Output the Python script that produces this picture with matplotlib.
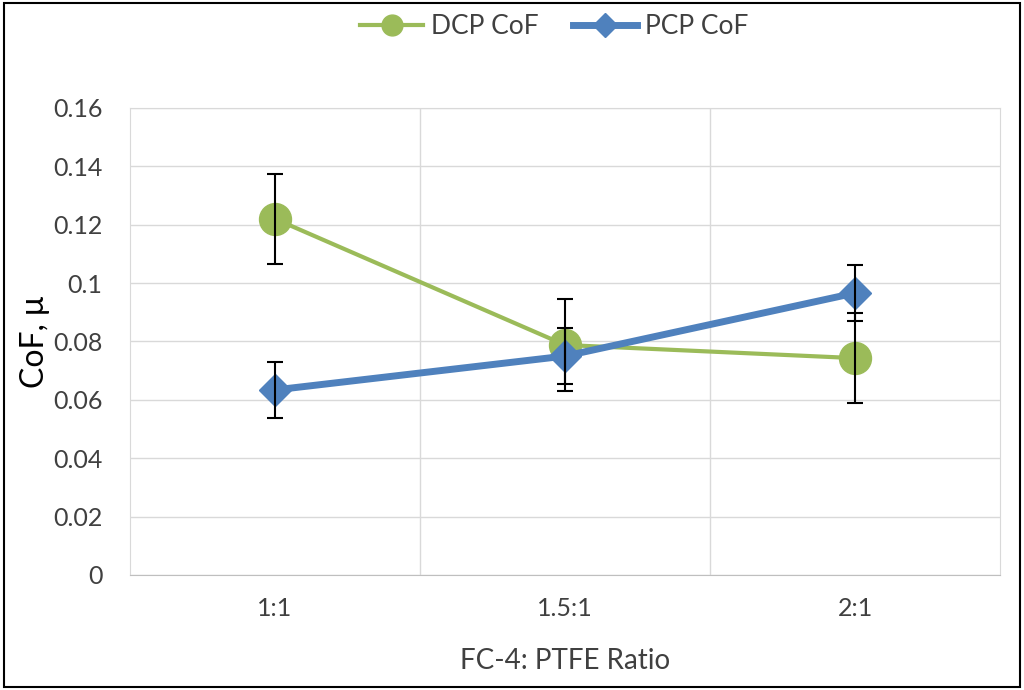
import matplotlib
matplotlib.use("Agg")
import matplotlib.pyplot as plt
from matplotlib.patches import Rectangle
from matplotlib.lines import Line2D

categories = ["1:1", "1.5:1", "2:1"]
dcp = [0.122, 0.0788, 0.0743]
dcp_err = [0.0155, 0.0158, 0.0155]
pcp = [0.0634, 0.075, 0.0966]
pcp_err = [0.0096, 0.0096, 0.0096]
yticks = [0, 0.02, 0.04, 0.06, 0.08, 0.1, 0.12, 0.14, 0.16]
ytick_labels = ["0", "0.02", "0.04", "0.06", "0.08", "0.1", "0.12", "0.14", "0.16"]

plt.rcParams['font.family'] = ['Lato', 'DejaVu Sans']
green = "#9BBB59"
blue = "#4F81BD"
txt = "#404040"

fig = plt.figure(figsize=(10.24, 6.9), dpi=100)
ax = fig.add_axes([0.127, 0.1667, 0.8496, 0.6768])
x = list(range(len(categories)))

ax.plot(x, dcp, color=green, lw=3, marker="o", ms=23, zorder=3, label="DCP CoF")
ax.plot(x, pcp, color=blue, lw=5, marker="D", ms=16, zorder=4, label="PCP CoF")
ax.errorbar(x, dcp, yerr=dcp_err, fmt="none", ecolor="black", elinewidth=1.5, capsize=6, capthick=1.5, zorder=5)
ax.errorbar(x, pcp, yerr=pcp_err, fmt="none", ecolor="black", elinewidth=1.5, capsize=6, capthick=1.5, zorder=5)

ax.set_xlim(-0.5, 2.5)
ax.set_ylim(0, 0.16)
ax.set_yticks(yticks)
ax.set_yticklabels(ytick_labels)
ax.set_xticks(x)
ax.set_xticklabels(categories)
ax.set_xticks([0.5, 1.5], minor=True)
ax.grid(True, axis="y", color="#D9D9D9", lw=1)
ax.grid(True, axis="x", which="minor", color="#D9D9D9", lw=1)
ax.set_axisbelow(True)
for s in ["top", "right", "left"]:
    ax.spines[s].set_color("#D9D9D9")
ax.spines["bottom"].set_color("#BFBFBF")
ax.tick_params(axis="both", which="both", length=0, labelsize=18, colors=txt)
ax.tick_params(axis="x", pad=16)
ax.tick_params(axis="y", pad=20)
ax.set_xlabel("FC-4: PTFE Ratio", fontsize=20, color=txt, labelpad=20)
ax.set_ylabel("CoF, μ", fontsize=23, color="black", labelpad=2)

handles = [Line2D([], [], color=green, lw=3, marker="o", ms=15),
           Line2D([], [], color=blue, lw=5, marker="D", ms=12)]
fig.legend(handles, ["DCP CoF", "PCP CoF"], loc="center", bbox_to_anchor=(0.541, 0.961),
           ncol=2, frameon=False, fontsize=19, handlelength=2.4, columnspacing=1.3,
           labelcolor=txt, handletextpad=0.3)

fig.patches.append(Rectangle((0.004, 0.005), 0.992, 0.99, transform=fig.transFigure,
                             fill=False, edgecolor="black", lw=1.5))
fig.savefig("out.png", dpi=100, facecolor="white")
